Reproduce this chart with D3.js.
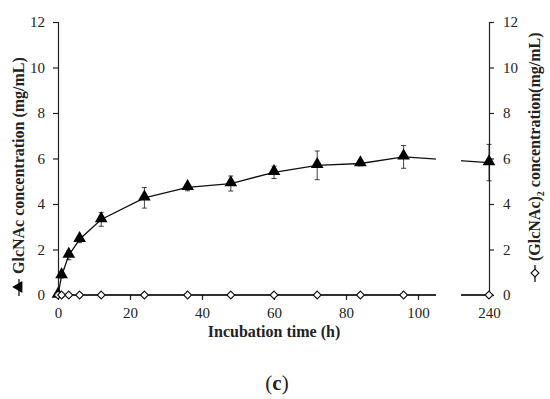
<!DOCTYPE html>
<html>
<head>
<meta charset="utf-8">
<script src="https://cdn.jsdelivr.net/npm/d3@7"></script>
<style>
  body { margin: 0; background: #fff; }
  svg text { font-family: "Liberation Serif", "Times New Roman", "DejaVu Serif", serif !important; fill: #222; }
</style>
</head>
<body>
<div id="chart"></div>
<script>
// incubation times (h)
var times = [0, 1, 3, 6, 12, 24, 36, 48, 60, 72, 84, 96, 240];
// GlcNAc concentration (mg/mL) and its error
var glcnac = [0, 0.85, 1.75, 2.45, 3.32, 4.27, 4.73, 4.9, 5.39, 5.7, 5.78, 6.07, 5.82];
var glcnacErr = [0, 0.1, 0.2, 0.15, 0.3, 0.45, 0.15, 0.33, 0.27, 0.63, 0.1, 0.5, 0.8];
// (GlcNAc)2 concentration (mg/mL)
var chitobiose = [0, 0, 0, 0, 0, 0, 0, 0, 0, 0, 0, 0, 0];
var xTicks = [0, 20, 40, 60, 80, 100, 240];
var yTicks = [0, 2, 4, 6, 8, 10, 12];

var W = 550, H = 399;

var svg = d3.select('#chart').append('svg')
    .attr('width', W)
    .attr('height', H);

// broken x axis: 0-105 then a short piece ending at 240
var x = d3.scaleLinear()
    .domain([0, 105, 232.2, 240])
    .range([58, 436, 461, 489]);
var gapL = 436, gapR = 461;

var y = d3.scaleLinear()
    .domain([0, 12])
    .range([295, 22]);

// left axis
var yAxisL = d3.axisLeft(y).tickValues(yTicks).tickSize(5).tickPadding(8);
var gL = svg.append('g').attr('transform', 'translate(58,0)').call(yAxisL);

// right axis
var yAxisR = d3.axisRight(y).tickValues(yTicks).tickSize(5).tickPadding(9);
var gR = svg.append('g').attr('transform', 'translate(489,0)').call(yAxisR);

// bottom axis
var xAxis = d3.axisBottom(x).tickValues(xTicks).tickSize(5).tickPadding(7)
    .tickSizeOuter(0);
var gX = svg.append('g').attr('transform', 'translate(0,295)').call(xAxis);
gX.select('.domain').attr('d', 'M58,0H489');

[gL, gR, gX].forEach(function (g) {
    g.attr('font-family', null);
    g.selectAll('path, line').attr('stroke', '#222').attr('stroke-width', 1.2);
    g.selectAll('text').style('font-size', '15px').attr('fill', '#222');
});
gX.selectAll('.tick').filter(function (d) { return d === 240; }).select('line').remove();

var clipId = 'gapclip';
var defs = svg.append('defs');
var cp = defs.append('clipPath').attr('id', clipId);
cp.append('rect').attr('x', 0).attr('y', 0).attr('width', gapL).attr('height', H);
cp.append('rect').attr('x', gapR).attr('y', 0).attr('width', W - gapR).attr('height', H);

// lines
var line = d3.line()
    .x(function (d) { return x(d[0]); })
    .y(function (d) { return y(d[1]); });

var plot = svg.append('g').attr('clip-path', 'url(#' + clipId + ')');

// cover axis gap
svg.append('rect').attr('x', gapL).attr('y', 290).attr('width', gapR - gapL).attr('height', 10)
    .attr('fill', '#fff');

plot.append('path')
    .datum(times.map(function (t, i) { return [t, chitobiose[i]]; }))
    .attr('d', line)
    .attr('fill', 'none').attr('stroke', '#111').attr('stroke-width', 1.3);

plot.append('path')
    .datum(times.map(function (t, i) { return [t, glcnac[i]]; }))
    .attr('d', line)
    .attr('fill', 'none').attr('stroke', '#111').attr('stroke-width', 1.3);

// error bars
var eb = svg.append('g');
times.forEach(function (t, i) {
    if (!glcnacErr[i]) return;
    var cx = x(t), y1 = y(glcnac[i] + glcnacErr[i]), y2 = y(glcnac[i] - glcnacErr[i]);
    eb.append('line').attr('x1', cx).attr('x2', cx).attr('y1', y1).attr('y2', y2)
        .attr('stroke', '#111').attr('stroke-width', 0.8);
    [y1, y2].forEach(function (yy) {
        eb.append('line').attr('x1', cx - 2.5).attr('x2', cx + 2.5).attr('y1', yy).attr('y2', yy)
            .attr('stroke', '#111').attr('stroke-width', 0.8);
    });
});

// triangles
var tri = d3.symbol().type(d3.symbolTriangle).size(70);
svg.append('g').selectAll('path')
    .data(times.map(function (t, i) { return [t, glcnac[i]]; }))
    .join('path')
    .attr('d', tri)
    .attr('transform', function (d) { return 'translate(' + x(d[0]) + ',' + (y(d[1]) - 1) + ')'; })
    .attr('fill', '#000');

// diamonds
var dia = d3.symbol().type(d3.symbolDiamond2).size(40);
svg.append('g').selectAll('path')
    .data(times.map(function (t, i) { return [t, chitobiose[i]]; }))
    .join('path')
    .attr('d', dia)
    .attr('transform', function (d) { return 'translate(' + x(d[0]) + ',' + y(d[1]) + ')'; })
    .attr('fill', '#fff').attr('stroke', '#111').attr('stroke-width', 1.1);

// axis titles
svg.append('text')
    .attr('x', 274).attr('y', 337)
    .attr('text-anchor', 'middle')
    .style('font-size', '16px').style('font-weight', 'bold')
    .text('Incubation time (h)');

// legend keys inside the y titles
svg.append('line').attr('x1', 19).attr('x2', 19).attr('y1', 279).attr('y2', 296)
    .attr('stroke', '#111').attr('stroke-width', 1.3);
svg.append('path').attr('d', d3.symbol().type(d3.symbolTriangle).size(60))
    .attr('transform', 'translate(19,287) rotate(-90)').attr('fill', '#000');

svg.append('line').attr('x1', 535).attr('x2', 535).attr('y1', 265).attr('y2', 282)
    .attr('stroke', '#111').attr('stroke-width', 1.3);
svg.append('path').attr('d', d3.symbol().type(d3.symbolDiamond2).size(40))
    .attr('transform', 'translate(535,273)').attr('fill', '#fff')
    .attr('stroke', '#111').attr('stroke-width', 1.1);

svg.append('text')
    .attr('transform', 'translate(24,274) rotate(-90)')
    .attr('text-anchor', 'start')
    .style('font-size', '16px').style('font-weight', 'bold')
    .text('GlcNAc concentration (mg/mL)');

var rt = svg.append('text')
    .attr('transform', 'translate(540,261) rotate(-90)')
    .attr('text-anchor', 'start')
    .style('font-size', '16px').style('font-weight', 'bold');
rt.append('tspan').text('(GlcNAc)');
rt.append('tspan').attr('dy', 4).style('font-size', '10px').text('2');
rt.append('tspan').attr('dy', -4).text(' concentration(mg/mL)');

// panel label
var pl = svg.append('text')
    .attr('x', 277).attr('y', 390)
    .attr('text-anchor', 'middle')
    .style('font-size', '21px');
pl.append('tspan').text('(');
pl.append('tspan').style('font-weight', 'bold').text('c');
pl.append('tspan').text(')');
</script>
</body>
</html>
